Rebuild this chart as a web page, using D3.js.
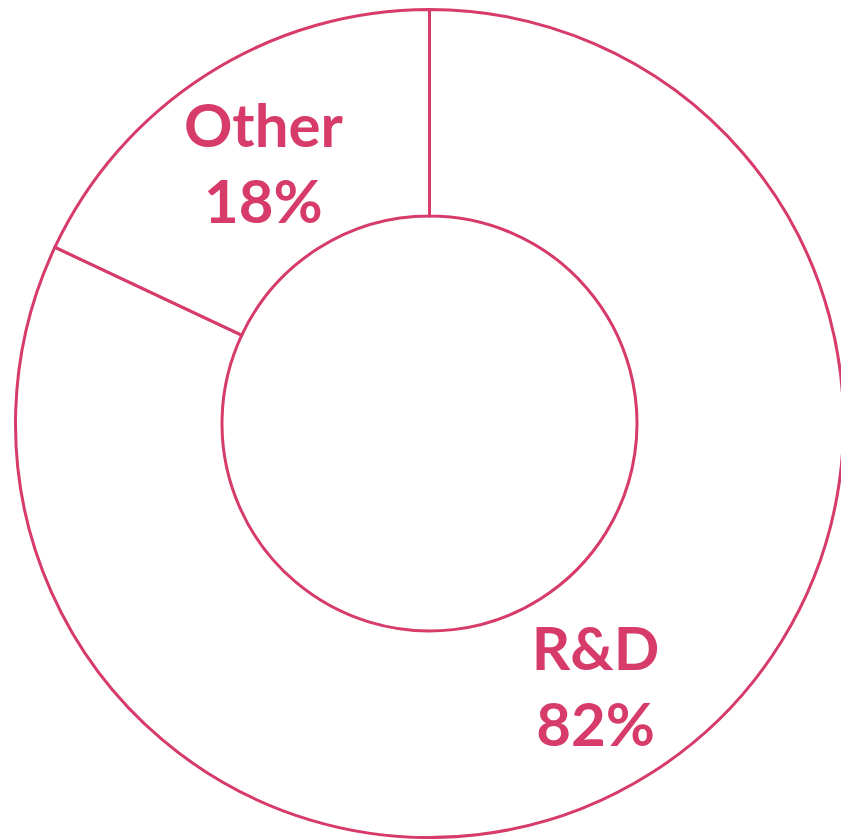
<!DOCTYPE html>
<html><head><meta charset="utf-8">
<script src="https://cdn.jsdelivr.net/npm/d3@7"></script>
<style>html,body{margin:0;padding:0;background:#fff;}</style>
</head><body>
<script>
const categories = ["R&D", "Other"];
const values = [82, 18];
const valueLabels = ["82%", "18%"];

const W = 841, H = 839;
const cx = 429.5, cy = 423.5;
const outerR = 414, innerR = 207.5;
const color = "#D63B6A";

const svg = d3.select("body").append("svg").attr("width", W).attr("height", H);
const g = svg.append("g").attr("transform", `translate(${cx},${cy})`);

const data = categories.map((c, i) => ({cat: c, value: values[i], label: valueLabels[i]}));
const pie = d3.pie().value(d => d.value).sort(null);
const arcs = pie(data);
const arc = d3.arc().innerRadius(innerR).outerRadius(outerR);
const labelArc = d3.arc().innerRadius(310).outerRadius(310);

g.selectAll("path").data(arcs).join("path")
  .attr("d", arc)
  .attr("fill", "#fff")
  .attr("stroke", color)
  .attr("stroke-width", 3);

const lbl = g.selectAll("text.lbl").data(arcs).join("text")
  .attr("class", "lbl")
  .attr("text-anchor", "middle")
  .attr("font-family", "Lato, 'Open Sans', sans-serif")
  .attr("font-weight", "bold")
  .attr("font-size", 60)
  .attr("fill", color)
  .attr("transform", d => { const [x, y] = labelArc.centroid(d); return `translate(${x},${y})`; });
lbl.append("tspan").attr("x", 0).attr("y", -15).text(d => d.data.cat);
lbl.append("tspan").attr("x", 0).attr("y", 61).text(d => d.data.label);
</script>
</body></html>
